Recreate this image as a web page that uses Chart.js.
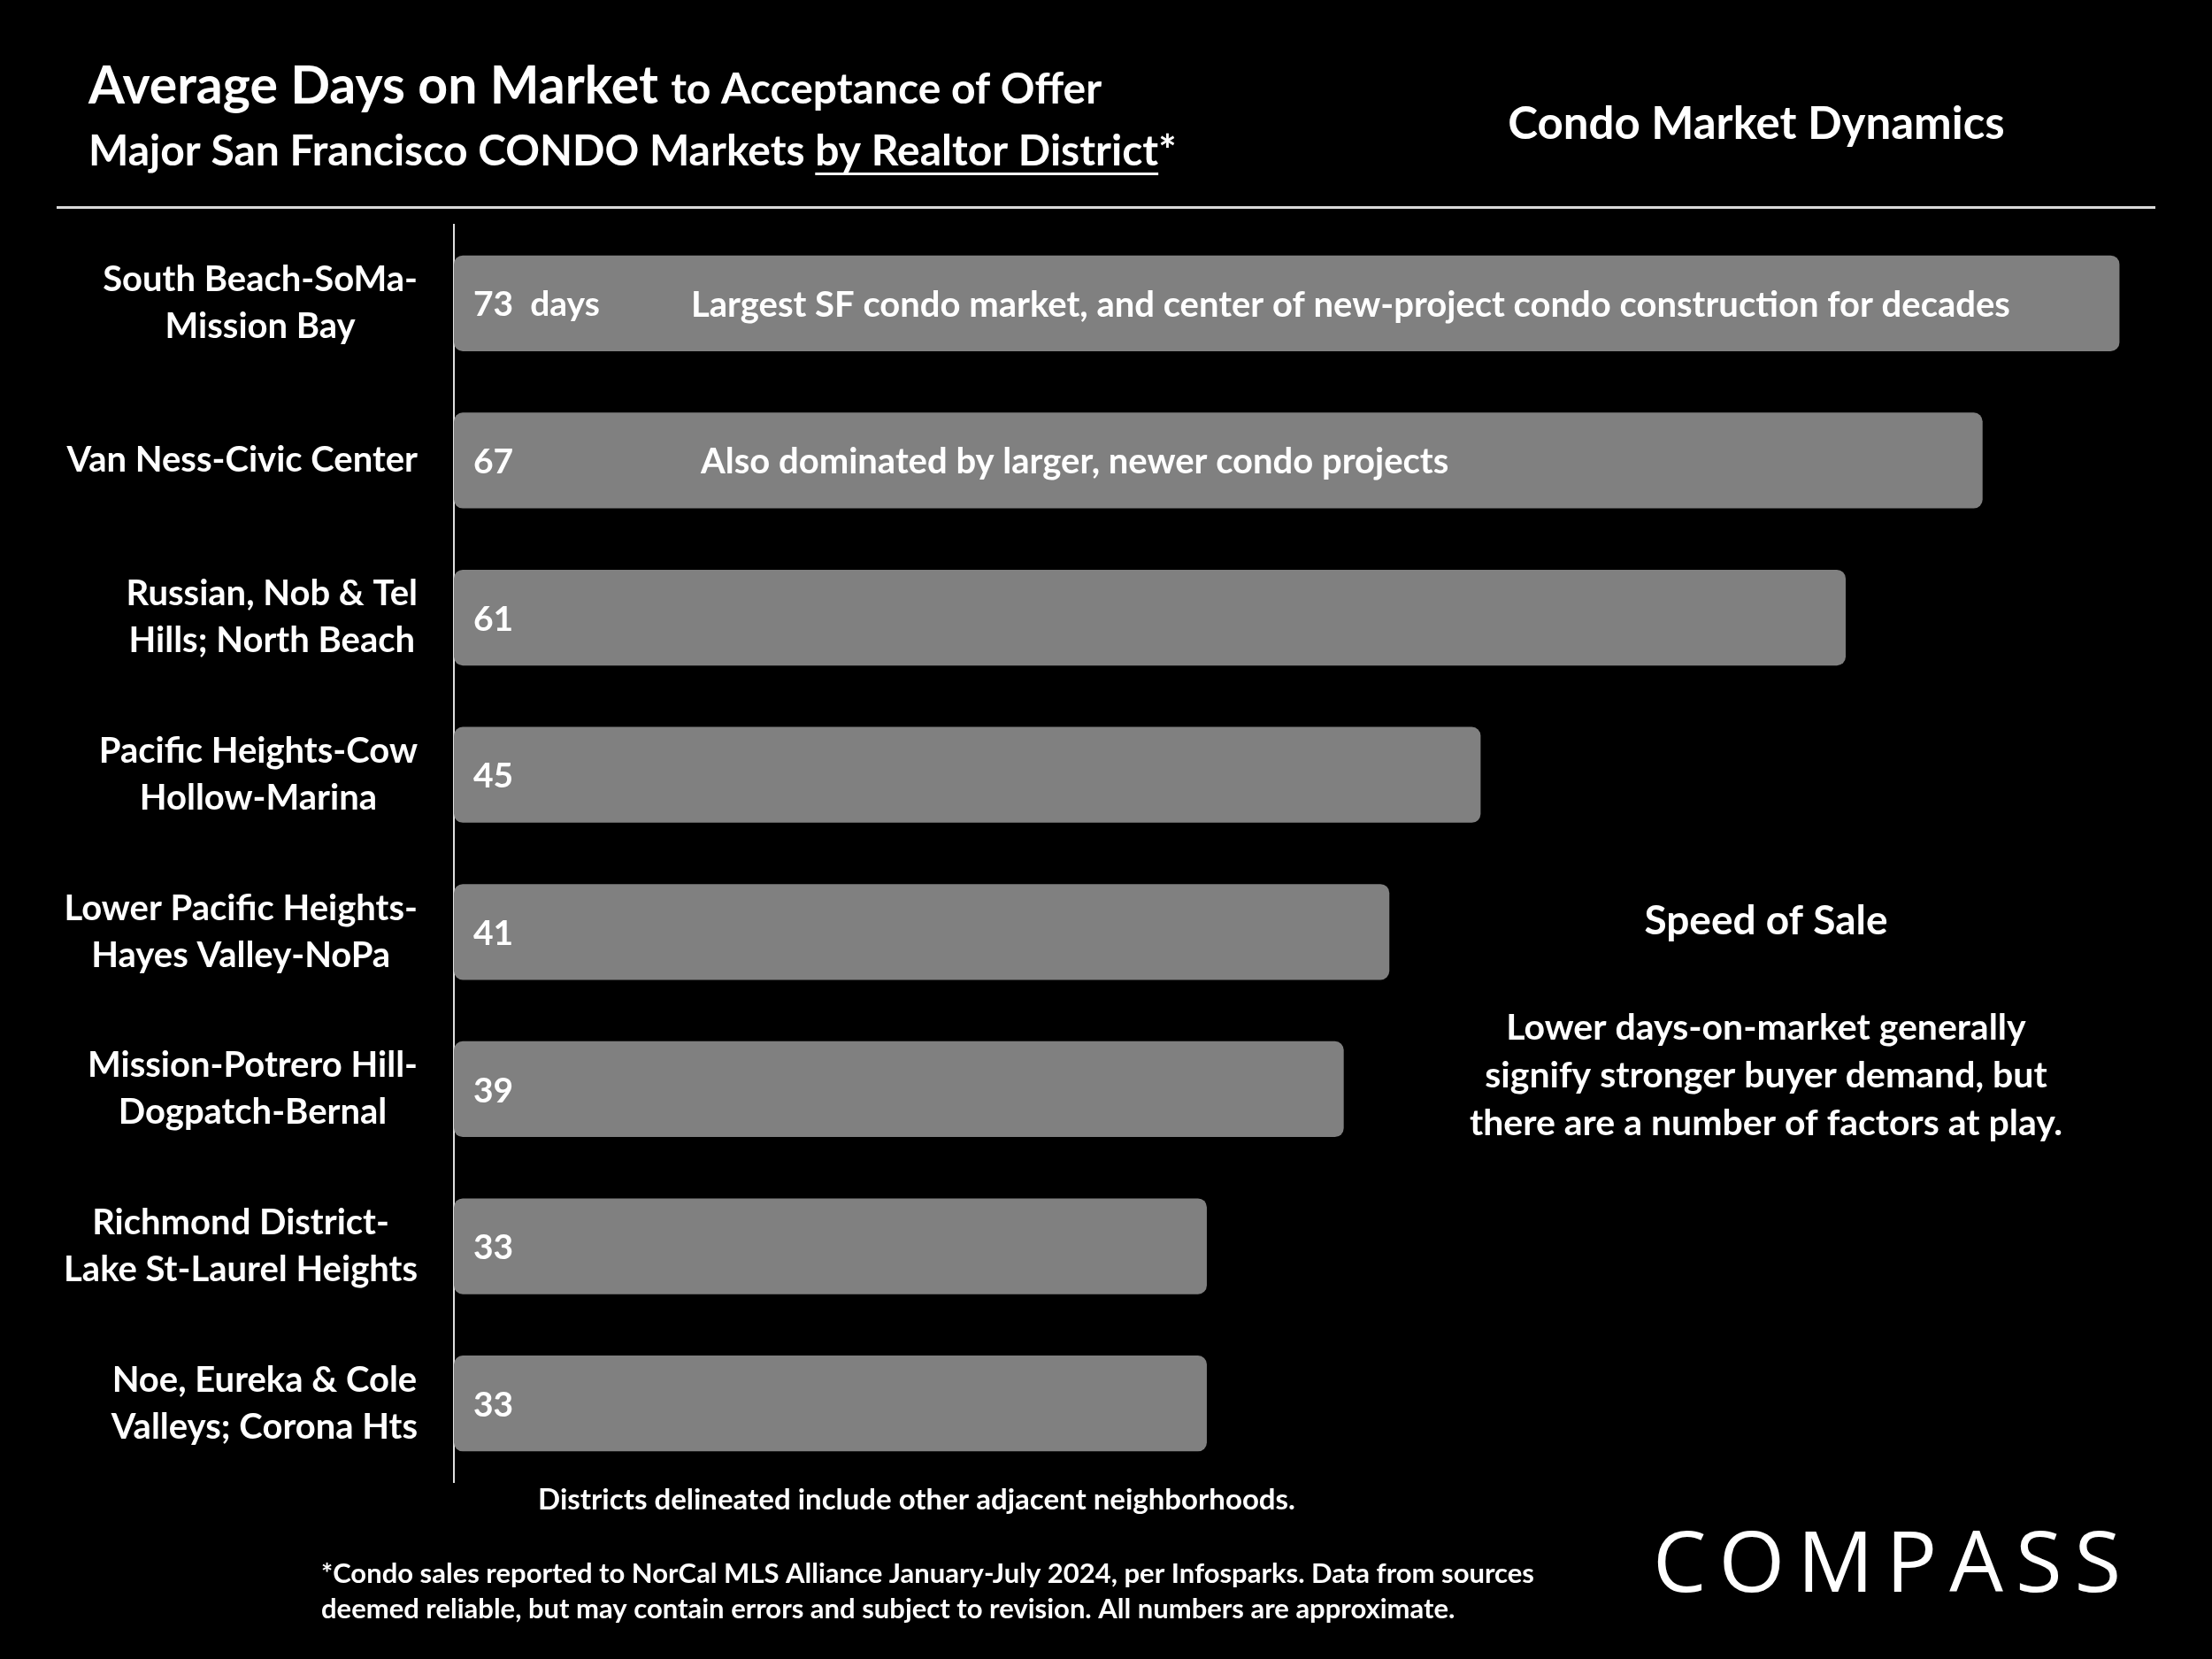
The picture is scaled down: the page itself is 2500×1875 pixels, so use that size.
<!DOCTYPE html>
<html><head><meta charset="utf-8">
<script src="https://cdn.jsdelivr.net/npm/chart.js@4"></script>
<style>html,body{margin:0;padding:0;background:#000;}canvas{display:block;}</style>
</head><body>
<canvas id="c" width="2500" height="1875"></canvas>
<script>
const categories = [
  ["South Beach-SoMa-","Mission Bay"],
  ["Van Ness-Civic Center"],
  ["Russian, Nob & Tel","Hills; North Beach"],
  ["Pacific Heights-Cow","Hollow-Marina"],
  ["Lower Pacific Heights-","Hayes Valley-NoPa"],
  ["Mission-Potrero Hill-","Dogpatch-Bernal"],
  ["Richmond District-","Lake St-Laurel Heights"],
  ["Noe, Eureka & Cole","Valleys; Corona Hts"]
];
const daysOnMarket = [73, 67, 61, 45, 41, 39, 33, 33];
const valueSuffix = [" days", "", "", "", "", "", "", ""];
const barNotes = ["Largest SF condo market, and center of new-project condo construction for decades",
  "Also dominated by larger, newer condo projects", "", "", "", "", "", ""];

const F = "Lato, 'Open Sans', sans-serif";

const textPlugin = {
  id: 'texts',
  afterDatasetsDraw(chart) {
    const ctx = chart.ctx;
    const y = chart.scales.y, x = chart.scales.x;
    ctx.save();
    ctx.fillStyle = '#fff';
    ctx.font = `bold 40px ${F}`;
    ctx.textAlign = 'center';
    ctx.textBaseline = 'middle';
    categories.forEach((lines, i) => {
      const cy = y.getPixelForValue(i);
      const lh = 53;
      const maxW = Math.max(...lines.map(l => ctx.measureText(l).width));
      const cx = 472 - maxW / 2;
      lines.forEach((ln, j) => {
        ctx.fillText(ln, cx, cy + (j - (lines.length - 1) / 2) * lh);
      });
    });
    categories.forEach((_, i) => {
      const cy = y.getPixelForValue(i);
      ctx.textAlign = 'left';
      ctx.font = `bold 39px ${F}`;
      ctx.fillText(daysOnMarket[i] + (valueSuffix[i] ? " " + valueSuffix[i] : ""), x.getPixelForValue(0) + 22, cy + 2);
      if (barNotes[i]) {
        ctx.font = `bold 40px ${F}`;
        ctx.fillText(barNotes[i], i === 0 ? 781 : 792, cy + 2);
      }
    });
    ctx.textAlign = 'left';
    ctx.textBaseline = 'alphabetic';
    ctx.font = `bold 59px ${F}`;
    const t1 = "Average Days on Market ";
    ctx.fillText(t1, 100, 117);
    const w1 = ctx.measureText(t1).width;
    ctx.font = `bold 48px ${F}`;
    ctx.fillText("to Acceptance of Offer", 100 + w1, 117);
    const a = "Major San Francisco CONDO Markets ";
    ctx.fillText(a, 100, 187);
    const wa = ctx.measureText(a).width;
    const b = "by Realtor District";
    ctx.fillText(b, 100 + wa, 187);
    const wb = ctx.measureText(b).width;
    ctx.fillRect(100 + wa, 195, wb, 3);
    ctx.fillText("*", 100 + wa + wb, 187);
    ctx.textAlign = 'center';
    ctx.font = `bold 51px ${F}`;
    ctx.fillText("Condo Market Dynamics", 1985, 157);
    ctx.fillStyle = '#d9d9d9';
    ctx.fillRect(64, 233, 2372, 3);
    ctx.fillStyle = '#fff';
    ctx.textBaseline = 'middle';
    ctx.font = `bold 46px ${F}`;
    ctx.fillText("Speed of Sale", 1996, 1041);
    ctx.font = `bold 41px ${F}`;
    ["Lower days-on-market generally", "signify stronger buyer demand, but", "there are a number of factors at play."]
      .forEach((l, k) => ctx.fillText(l, 1996, 1162 + k * 54));
    ctx.font = `bold 33px ${F}`;
    ctx.fillText("Districts delineated include other adjacent neighborhoods.", 1036, 1695);
    ctx.textAlign = 'left';
    ctx.font = `bold 31px ${F}`;
    ctx.fillText("*Condo sales reported to NorCal MLS Alliance January-July 2024, per Infosparks. Data from sources", 363, 1779);
    ctx.fillText("deemed reliable, but may contain errors and subject to revision. All numbers are approximate.", 363, 1819);
    ctx.font = `400 96px 'Open Sans', sans-serif`;
    ctx.letterSpacing = '14px';
    ctx.fillText("COMPASS", 1868, 1772);
    ctx.restore();
  }
};

new Chart(document.getElementById('c'), {
  type: 'bar',
  data: {
    labels: categories,
    datasets: [{
      data: daysOnMarket,
      backgroundColor: '#808080',
      borderRadius: 10,
      borderSkipped: false,
      barPercentage: 0.61,
      categoryPercentage: 1
    }]
  },
  options: {
    indexAxis: 'y',
    responsive: false,
    devicePixelRatio: 1,
    animation: false,
    layout: { padding: { left: 505, right: 53, top: 254, bottom: 200 } },
    plugins: { legend: { display: false }, tooltip: { enabled: false } },
    scales: {
      x: { display: false, min: 0, max: 75 },
      y: {
        ticks: { display: false },
        grid: { display: false },
        border: { color: '#e0e0e0', width: 2 }
      }
    }
  },
  plugins: [{ id: 'bg', beforeDraw(c) { c.ctx.save(); c.ctx.fillStyle = '#000'; c.ctx.fillRect(0, 0, c.width, c.height); c.ctx.restore(); } }, textPlugin]
});
</script>
</body></html>
